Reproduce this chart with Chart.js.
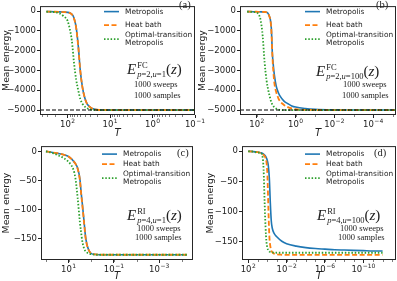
<!DOCTYPE html>
<html>
<head>
<meta charset="utf-8">
<script src="https://cdn.jsdelivr.net/npm/chart.js@4.4.1/dist/chart.umd.min.js"></script>
<style>
  body { margin: 0; background: #fff; }
  #fig { position: relative; width: 397px; height: 281px; overflow: hidden; background: #fff; }
  #fig canvas { position: absolute; }
  .note { position: absolute; font-family: 'Liberation Serif', serif; color: #222; white-space: nowrap; line-height: 1; }
  .small { font-size: 8.5px; }
  .tag { font-size: 10.5px; }
  .eq { font-size: 15px; }
  .ss { display: inline-block; vertical-align: -3px; font-size: 8.5px; line-height: 8.5px; margin-left: 1px; }
  .ss span { display: block; }
</style>
</head>
<body>
<div id="fig">
  <canvas id="ca" width="212" height="140" style="left:0;top:0"></canvas>
  <canvas id="cb" width="201" height="140" style="left:196px;top:0"></canvas>
  <canvas id="cc" width="210" height="141" style="left:0;top:140px"></canvas>
  <canvas id="cd" width="201" height="141" style="left:196px;top:140px"></canvas>

  <div class="note tag" style="left:179px;top:0px">(a)</div>
  <div class="note tag" style="left:376px;top:0px">(b)</div>
  <div class="note tag" style="left:177px;top:148px">(c)</div>
  <div class="note tag" style="left:374px;top:148px">(d)</div>

  <div class="note eq" style="left:127px;top:61px"><i>E</i><span class="ss"><span>FC</span><span><i>p</i>=2,<i>u</i>=1</span></span>(<i>z</i>)</div>
  <div class="note small" style="left:134px;top:80px">1000 sweeps</div>
  <div class="note small" style="left:134px;top:91px">1000 samples</div>

  <div class="note eq" style="left:316px;top:63px"><i>E</i><span class="ss"><span>FC</span><span><i>p</i>=2,<i>u</i>=100</span></span>(<i>z</i>)</div>
  <div class="note small" style="left:343px;top:80px">1000 sweeps</div>
  <div class="note small" style="left:342px;top:91px">1000 samples</div>

  <div class="note eq" style="left:127px;top:207px"><i>E</i><span class="ss"><span>RI</span><span><i>p</i>=4,<i>u</i>=1</span></span>(<i>z</i>)</div>
  <div class="note small" style="left:137px;top:224px">1000 sweeps</div>
  <div class="note small" style="left:135px;top:233px">1000 samples</div>

  <div class="note eq" style="left:317px;top:207px"><i>E</i><span class="ss"><span>RI</span><span><i>p</i>=4,<i>u</i>=100</span></span>(<i>z</i>)</div>
  <div class="note small" style="left:340px;top:224px">1000 sweeps</div>
  <div class="note small" style="left:338px;top:233px">1000 samples</div>
</div>

<script>
// series names
var seriesNames = ['Metropolis', 'Heat bath', 'Optimal-transition\nMetropolis'];

// (a) FC, p=2, u=1
var tA    = [316, 200, 158, 126, 100, 89.1, 79.4, 70.8, 63.1, 56.2, 50.1, 44.7, 39.8, 35.5, 31.6, 28.2, 25.1, 20.0, 15.8, 10, 3.16, 1, 0.316, 0.1];
var metA  = [-30, -35, -40, -50, -65, -90, -160, -350, -800, -1750, -3050, -3850, -4350, -4650, -4800, -4890, -4940, -4985, -4998, -5000, -5000, -5000, -5000, -5000];
var heatA = [-30, -35, -40, -50, -65, -95, -170, -370, -830, -1780, -3050, -3860, -4350, -4650, -4800, -4890, -4940, -4985, -4998, -5000, -5000, -5000, -5000, -5000];
var optA  = [-30, -60, -110, -250, -500, -900, -1500, -2600, -3450, -4000, -4450, -4680, -4820, -4900, -4950, -4980, -4995, -5000, -5000, -5000, -5000, -5000, -5000, -5000];

// (b) FC, p=2, u=100
var tB    = [316, 158, 100, 79.4, 63.1, 50.1, 39.8, 31.6, 25.1, 22.4, 20.0, 17.8, 15.8, 14.1, 12.6, 10, 7.94, 6.31, 3.98, 2.51, 1.58, 1, 0.316, 0.1, 0.01, 1e-3, 1e-4, 6.6e-6];
var metB  = [-30, -33, -35, -38, -40, -43, -48, -60, -150, -280, -450, -900, -2160, -2750, -3200, -3800, -4100, -4300, -4550, -4680, -4790, -4850, -4925, -4965, -4993, -5000, -5000, -5000];
var heatB = [-30, -33, -35, -38, -40, -43, -48, -60, -150, -280, -460, -1000, -2250, -3050, -3600, -4100, -4380, -4560, -4740, -4850, -4920, -4960, -4990, -4998, -5000, -5000, -5000, -5000];
var optB  = [-30, -50, -80, -180, -480, -1250, -2600, -3500, -4050, -4250, -4450, -4620, -4720, -4800, -4860, -4930, -4975, -4995, -5000, -5000, -5000, -5000, -5000, -5000, -5000, -5000, -5000, -5000];

// (c) RI, p=4, u=1
var tC    = [100, 50.1, 25.1, 15.8, 10, 7.94, 6.31, 5.01, 3.98, 3.16, 2.82, 2.51, 2.24, 2.0, 1.78, 1.58, 1.26, 1, 0.631, 0.316, 0.1, 0.01, 1e-3, 6e-5];
var metC  = [0, -2, -4, -6, -9, -12, -16, -21, -29, -48, -69, -88, -107, -127, -147, -158, -170, -175, -176.5, -177, -177, -177, -177, -177];
var heatC = [0, -2, -4, -6, -9, -12, -16, -21, -30, -50, -71, -90, -109, -129, -148, -159, -170, -175, -176.5, -177, -177, -177, -177, -177];
var optC  = [0, -3, -8, -12, -18, -23, -30, -46, -80, -122, -138, -153, -162, -168, -171, -173, -175, -176, -177, -177, -177, -177, -177, -177];

// (d) RI, p=4, u=100
var tD    = [100, 31.6, 10, 5.01, 3.16, 2.51, 2.0, 1.58, 1.26, 1, 0.794, 0.631, 0.501, 0.398, 0.316, 0.2, 0.1, 0.0316, 0.01, 1e-3, 1e-4, 1e-5, 1e-6, 1e-7, 1e-8, 1e-9, 1e-10, 1e-11, 1e-12];
var metD  = [0, -0.5, -1.5, -2.5, -3.5, -4.5, -6, -8, -11, -16, -25, -45, -85, -115, -127, -136, -142, -149, -153, -157, -159.5, -161, -162, -163, -163.5, -164, -164.5, -165, -165];
var heatD = [0, -0.5, -1.5, -3, -5, -6, -8, -11, -18, -40, -95, -140, -157, -164, -167, -169.5, -170.7, -171.3, -171.5, -171.5, -171.5, -171.5, -171.5, -171.5, -171.5, -171.5, -171.5, -171.5, -171.5];
var optD  = [0, -0.5, -2, -3, -10, -30, -80, -125, -150, -160, -164, -166, -166.8, -167.3, -167.5, -167.8, -168, -168, -168, -168, -168, -168, -168, -168, -168, -168, -168, -168, -168];

// ground state energy (dashed line in FC panels)
var groundFC = -5000;

// tick labels
var yTicksFC = [0, -1000, -2000, -3000, -4000, -5000];
var yTicksRI = [0, -50, -100, -150];
var xTicksA = [1e2, 1e1, 1e0, 1e-1];
var xTicksB = [1e2, 1e0, 1e-2, 1e-4];
var xTicksC = [1e1, 1e-1, 1e-3];
var xTicksD = [1e2, 1e-2, 1e-6, 1e-10];

Chart.defaults.font.family = 'DejaVu Sans';
Chart.defaults.color = '#222';

var panelDecor = {
  id: 'panelDecor',
  afterDatasetsDraw: function(chart, args, opts) {
    var ctx = chart.ctx, a = chart.chartArea, xs = chart.scales.x;
    ctx.save();
    if (opts.ground !== undefined) {
      var gy = chart.scales.y.getPixelForValue(opts.ground);
      ctx.strokeStyle = '#000';
      ctx.lineWidth = 1.1;
      ctx.setLineDash([4, 2]);
      ctx.beginPath();
      ctx.moveTo(a.left, gy);
      ctx.lineTo(a.right, gy);
      ctx.stroke();
    }
    ctx.setLineDash([]);
    ctx.strokeStyle = '#262626';
    ctx.lineWidth = 1;
    ctx.strokeRect(a.left + 0.5, a.top + 0.5, a.right - a.left - 1, a.bottom - a.top - 1);

    // minor log ticks below the x axis
    ctx.lineWidth = 0.6;
    ctx.beginPath();
    var lo = Math.floor(Math.log10(xs.min)), hi = Math.ceil(Math.log10(xs.max));
    for (var e = lo; e <= hi; e++) {
      opts.subs.forEach(function(s) {
        var v = s * Math.pow(10, e);
        if (v <= xs.min || v >= xs.max) return;
        var px = Math.round(xs.getPixelForValue(v)) + 0.5;
        ctx.moveTo(px, a.bottom);
        ctx.lineTo(px, a.bottom + 2);
      });
    }
    ctx.stroke();

    // x tick labels as 10 with a raised exponent
    ctx.fillStyle = '#222';
    ctx.textBaseline = 'alphabetic';
    ctx.textAlign = 'left';
    xs.ticks.forEach(function(t) {
      var px = xs.getPixelForValue(t.value);
      var ex = String(Math.round(Math.log10(t.value))).replace('-', '\u2212');
      ctx.font = '8.5px "DejaVu Sans"';
      var wb = ctx.measureText('10').width;
      ctx.font = '6px "DejaVu Sans"';
      var we = ctx.measureText(ex).width;
      var x0 = px - (wb + we + 0.5) / 2;
      var by = a.bottom + 11.6;
      ctx.font = '8.5px "DejaVu Sans"';
      ctx.fillText('10', x0, by);
      ctx.font = '6px "DejaVu Sans"';
      ctx.fillText(ex, x0 + wb + 0.5, by - 3.4);
    });

    // legend in the upper right corner
    ctx.font = '7.4px "DejaVu Sans"';
    ctx.textBaseline = 'middle';
    chart.data.datasets.forEach(function(ds, i) {
      var y = a.top + opts.rows[i];
      ctx.strokeStyle = ds.borderColor;
      ctx.lineWidth = ds.borderWidth;
      ctx.setLineDash(ds.borderDash || []);
      ctx.beginPath();
      ctx.moveTo(a.right - 91, y);
      ctx.lineTo(a.right - 76, y);
      ctx.stroke();
      var lines = ds.label.split('\n');
      lines.forEach(function(s, k) {
        ctx.fillText(s, a.right - 70, y + (k - (lines.length - 1) / 2) * 8.5);
      });
    });
    ctx.restore();
  }
};

function makePanel(id, T, series, p) {
  var colors = ['#1f77b4', '#ff7f0e', '#2ca02c'];
  var dashes = [[], [5, 2.5], [1.5, 1.8]];
  var datasets = series.map(function(vals, i) {
    return {
      label: seriesNames[i],
      data: T.map(function(t, k) { return {x: t, y: vals[k]}; }),
      borderColor: colors[i],
      borderDash: dashes[i],
      borderWidth: i === 0 ? 1.6 : 1.8,
      pointRadius: 0,
      fill: false,
      cubicInterpolationMode: 'monotone',
      order: 3 - i
    };
  });
  return new Chart(document.getElementById(id), {
    type: 'line',
    data: {datasets: datasets},
    options: {
      responsive: false,
      animation: false,
      devicePixelRatio: 1,
      layout: {padding: p.pad},
      plugins: {
        legend: {display: false},
        tooltip: {enabled: false},
        panelDecor: {ground: p.ground, rows: p.rows, subs: p.subs}
      },
      scales: {
        x: {
          type: 'logarithmic',
          reverse: true,
          min: p.xmin,
          max: p.xmax,
          afterBuildTicks: function(s) { s.ticks = p.xTicks.map(function(v) { return {value: v}; }); },
          afterFit: function(s) { s.height = p.xh; },
          ticks: {display: false},
          grid: {drawOnChartArea: false, drawTicks: true, tickLength: 3, color: '#222'},
          border: {display: false},
          title: {display: true, text: 'T', font: {size: 10, style: 'italic', lineHeight: 1}, color: '#222',
                  padding: {top: 0, bottom: p.tpad}}
        },
        y: {
          type: 'linear',
          min: p.ymin,
          max: p.ymax,
          afterBuildTicks: function(s) { s.ticks = p.yTicks.map(function(v) { return {value: v}; }); },
          afterFit: function(s) { s.width = p.yw; },
          ticks: {callback: function(v) { return String(v).replace('-', '\u2212'); }, font: {size: 8.5},
                  padding: 1, color: '#222'},
          grid: {drawOnChartArea: false, drawTicks: true, tickLength: 3, color: '#222'},
          border: {display: false},
          title: {display: true, text: 'Mean energy', font: {size: 9.3}, color: '#222', padding: 0}
        }
      }
    },
    plugins: [panelDecor]
  });
}

makePanel('ca', tA, [metA, heatA, optA], {
  pad: {left: 1, top: 0, right: 17, bottom: 0}, yw: 39, xh: 25, tpad: 1.5,
  xmin: 0.1, xmax: 447, xTicks: xTicksA, ymin: -5250, ymax: 250, yTicks: yTicksFC,
  ground: groundFC, rows: [5.5, 19, 33], subs: [2, 3, 4, 5, 6, 7, 8, 9]
});
makePanel('cb', tB, [metB, heatB, optB], {
  pad: {left: 1, top: 0, right: 1, bottom: 0}, yw: 43, xh: 25, tpad: 1.5,
  xmin: 6.6e-6, xmax: 741, xTicks: xTicksB, ymin: -5250, ymax: 250, yTicks: yTicksFC,
  ground: groundFC, rows: [5.5, 19, 33], subs: [1]
});
makePanel('cc', tC, [metC, heatC, optC], {
  pad: {left: 1, top: 5, right: 17, bottom: 0}, yw: 40, xh: 21, tpad: 0,
  xmin: 3.2e-5, xmax: 166, xTicks: xTicksC, ymin: -186, ymax: 9, yTicks: yTicksRI,
  rows: [8, 18, 32], subs: [1]
});
makePanel('cd', tD, [metD, heatD, optD], {
  pad: {left: 9, top: 5, right: 1, bottom: 0}, yw: 37, xh: 21, tpad: 0,
  xmin: 3.98e-14, xmax: 447, xTicks: xTicksD, ymin: -180, ymax: 8.6, yTicks: yTicksRI,
  rows: [8, 18, 32], subs: [1]
});
</script>
</body>
</html>
